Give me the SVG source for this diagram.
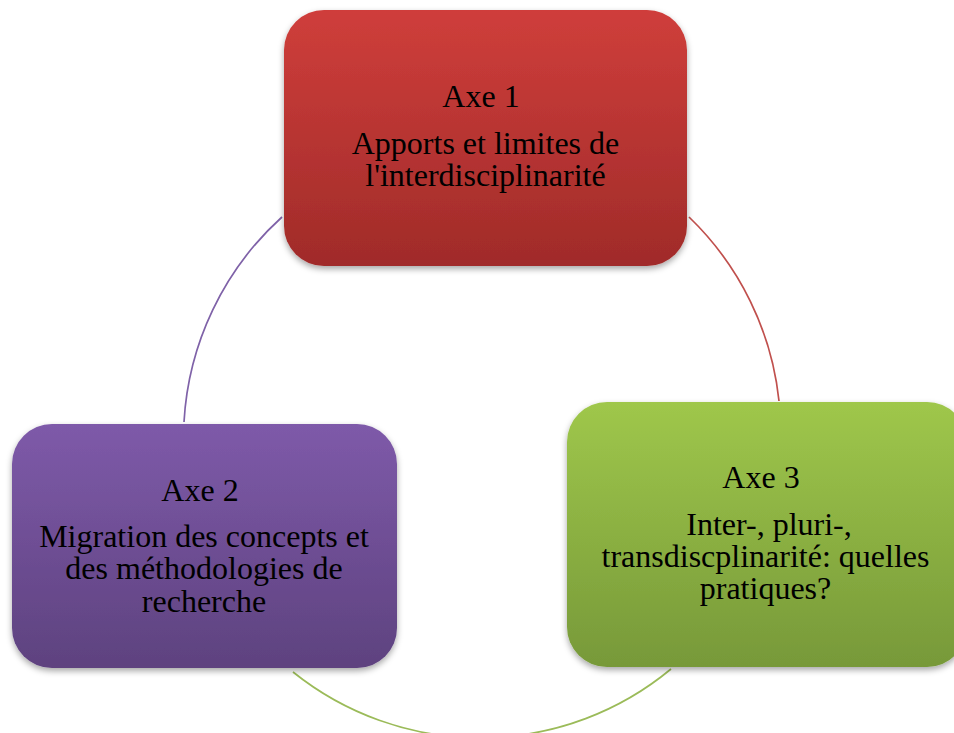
<svg xmlns="http://www.w3.org/2000/svg" width="954" height="733" viewBox="0 0 954 733">
  <defs>
    <linearGradient id="gRed" x1="0" y1="0" x2="0" y2="1">
      <stop offset="0" stop-color="#CF3E3B"/>
      <stop offset="1" stop-color="#A02B29"/>
    </linearGradient>
    <linearGradient id="gPurple" x1="0" y1="0" x2="0" y2="1">
      <stop offset="0" stop-color="#7E5AA9"/>
      <stop offset="1" stop-color="#5E427F"/>
    </linearGradient>
    <linearGradient id="gGreen" x1="0" y1="0" x2="0" y2="1">
      <stop offset="0" stop-color="#9FC74B"/>
      <stop offset="1" stop-color="#779939"/>
    </linearGradient>
    <filter id="shadow" x="-10%" y="-10%" width="120%" height="125%">
      <feDropShadow dx="0" dy="3" stdDeviation="3" flood-color="#000" flood-opacity="0.35"/>
    </filter>
  </defs>
  <style>
    .lbl { font-family: "Liberation Serif", "Times New Roman", serif; font-size: 32px; fill: #000; text-anchor: middle; }
    .arc { fill: none; stroke-width: 1.7; }
  </style>
  <rect width="954" height="733" fill="#fff"/>
  <g id="connectors">
    <path class="arc" stroke="#7F62A8" d="M 184 422 A 299 299 0 0 1 282 217"/>
    <path class="arc" stroke="#C0504D" d="M 689 217 A 299 299 0 0 1 779 401"/>
    <path class="arc" stroke="#9BBB59" d="M 671 669 A 299 299 0 0 1 293 672"/>
  </g>
  <g id="axe1">
    <rect x="284" y="10" width="403" height="256" rx="40" ry="40" fill="url(#gRed)" filter="url(#shadow)"/>
    <text class="lbl" x="481" y="107">Axe 1</text>
    <text class="lbl" x="485.5" y="154">Apports et limites de</text>
    <text class="lbl" x="485.5" y="186">l'interdisciplinarité</text>
  </g>
  <g id="axe2">
    <rect x="12" y="424" width="385" height="244" rx="40" ry="40" fill="url(#gPurple)" filter="url(#shadow)"/>
    <text class="lbl" x="200" y="501">Axe 2</text>
    <text class="lbl" x="204" y="547">Migration des concepts et</text>
    <text class="lbl" x="204" y="579">des méthodologies de</text>
    <text class="lbl" x="204" y="612">recherche</text>
  </g>
  <g id="axe3">
    <rect x="567" y="402" width="400" height="265" rx="40" ry="40" fill="url(#gGreen)" filter="url(#shadow)"/>
    <text class="lbl" x="761" y="488">Axe 3</text>
    <text class="lbl" x="769" y="535">Inter-, pluri-,</text>
    <text class="lbl" x="765.5" y="567">transdiscplinarité: quelles</text>
    <text class="lbl" x="765.5" y="599">pratiques?</text>
  </g>
</svg>
